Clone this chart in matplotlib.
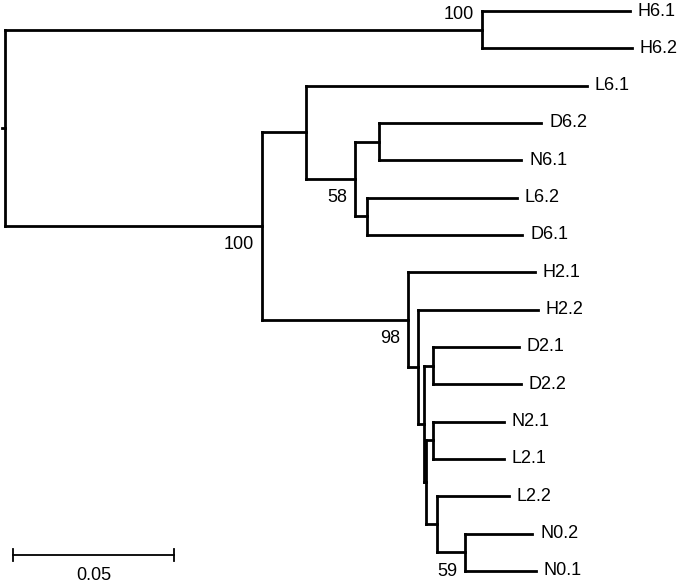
import matplotlib
matplotlib.use("Agg")
import matplotlib.pyplot as plt

plt.rcParams['font.family'] = ['Liberation Sans', 'DejaVu Sans']

# tree in preorder: node name, parent, branch length (substitutions/site)
nodes = ["root", "A", "H6.1", "H6.2", "B", "C", "L6.1", "D", "E", "D6.2", "N6.1",
         "F", "L6.2", "D6.1", "G", "H2.1", "H", "H2.2", "I", "J", "D2.1", "D2.2",
         "K", "L", "N2.1", "L2.1", "M", "L2.2", "N", "N0.2", "N0.1"]
parents = [None, "root", "A", "A", "root", "B", "C", "C", "D", "E", "E",
           "D", "F", "F", "B", "G", "G", "H", "H", "I", "J", "J",
           "I", "K", "L", "L", "K", "M", "M", "N", "N"]
branch_len = [0.0, 0.1480, 0.0461, 0.0466, 0.0796, 0.0137, 0.0873, 0.0153, 0.0075, 0.0504, 0.0442,
              0.0036, 0.0466, 0.0484, 0.0455, 0.0393, 0.0031, 0.0373, 0.0018, 0.0027, 0.0269, 0.0273,
              0.0008, 0.0019, 0.0221, 0.0221, 0.0033, 0.0224, 0.0086, 0.0210, 0.0220]

support = {"A": 100, "B": 100, "D": 58, "G": 98, "N": 59}
support_above = ["A"]

scale_len = 0.05
scale_label = "0.05"

# x positions
xpos = {}
for n, p, bl in zip(nodes, parents, branch_len):
    xpos[n] = bl if p is None else xpos[p] + bl

children = {n: [] for n in nodes}
for n, p in zip(nodes, parents):
    if p is not None:
        children[p].append(n)

leaves = [n for n in nodes if not children[n]]
ypos = {n: i for i, n in enumerate(leaves)}
for n in reversed(nodes):
    if children[n]:
        ypos[n] = (ypos[children[n][0]] + ypos[children[n][-1]]) / 2

fig = plt.figure(figsize=(6.8, 5.84), dpi=100)
ax = fig.add_axes([0, 0, 1, 1])

lw = 2.0
fs = 13
for n, p in zip(nodes, parents):
    if p is not None:
        ax.plot([xpos[p], xpos[n]], [ypos[n], ypos[n]], color="black", lw=lw,
                solid_capstyle="projecting")
    if children[n]:
        c = children[n]
        ax.plot([xpos[n], xpos[n]], [ypos[c[0]], ypos[c[-1]]], color="black", lw=lw,
                solid_capstyle="projecting")

# root stub
ax.plot([-0.001, 0], [ypos["root"], ypos["root"]], color="black", lw=lw)

for n in leaves:
    ax.annotate(n, (xpos[n], ypos[n]), xytext=(5.5, 0), textcoords="offset points",
                ha="left", va="center", fontsize=fs)

for n, v in support.items():
    dy = 11 if n in support_above else -13.5
    ax.annotate(str(v), (xpos[n], ypos[n]), xytext=(-5.5, dy), textcoords="offset points",
                ha="right", va="center", fontsize=fs)

# scale bar
sx0 = 0.0024
sy = 14.57
ax.plot([sx0, sx0 + scale_len], [sy, sy], color="black", lw=1.3)
for xx in (sx0, sx0 + scale_len):
    ax.plot([xx, xx], [sy - 0.17, sy + 0.17], color="black", lw=1.3)
ax.text(sx0 + scale_len / 2, 15.11, scale_label, ha="center", va="center", fontsize=fs)

ax.set_xlim(-0.001646, 0.20953)
ax.set_ylim(15.35, -0.295)
ax.axis("off")

fig.savefig("out.png", dpi=100)
